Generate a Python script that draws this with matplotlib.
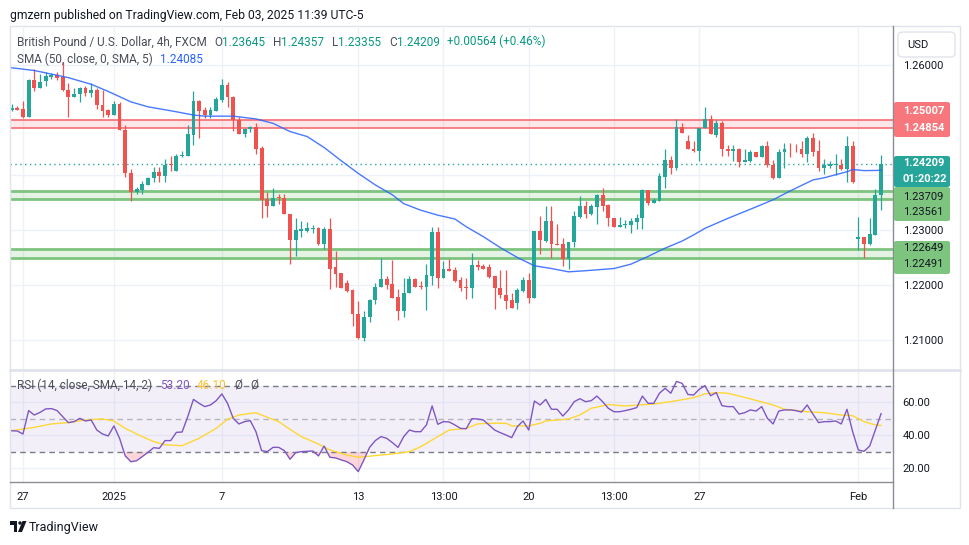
import numpy as np
import matplotlib
matplotlib.use("Agg")
import matplotlib.pyplot as plt
from matplotlib.patches import Rectangle, FancyBboxPatch, Polygon, Ellipse
from matplotlib.lines import Line2D

plt.rcParams['font.family'] = ['Roboto', 'DejaVu Sans']

# GBPUSD 4h candles (bar 0 = Dec 27)
opens = [1.2518, 1.2522, 1.2520, 1.2506, 1.2573, 1.2559, 1.2571, 1.2579, 1.2582, 1.2578,
         1.2555, 1.2542, 1.2548, 1.2559, 1.2550, 1.2555, 1.2528, 1.2518, 1.2509, 1.2530,
         1.2482, 1.2403, 1.2370, 1.2373, 1.2382, 1.2394, 1.2405, 1.2399, 1.2419, 1.2408,
         1.2435, 1.2435, 1.2473, 1.2535, 1.2518, 1.2510, 1.2517, 1.2536, 1.2564, 1.2542,
         1.2500, 1.2475, 1.2484, 1.2487, 1.2450, 1.2356, 1.2344, 1.2359, 1.2358, 1.2330,
         1.2281, 1.2299, 1.2299, 1.2302, 1.2304, 1.2274, 1.2302, 1.2232, 1.2221, 1.2203,
         1.2191, 1.2147, 1.2104, 1.2141, 1.2172, 1.2196, 1.2211, 1.2202, 1.2178, 1.2152,
         1.2185, 1.2211, 1.2199, 1.2197, 1.2217, 1.2296, 1.2213, 1.2230, 1.2227, 1.2209,
         1.2197, 1.2195, 1.2236, 1.2235, 1.2232, 1.2216, 1.2195, 1.2182, 1.2173, 1.2167,
         1.2190, 1.2209, 1.2176, 1.2298, 1.2280, 1.2316, 1.2275, 1.2274, 1.2247, 1.2278,
         1.2324, 1.2344, 1.2329, 1.2342, 1.2364, 1.2345, 1.2321, 1.2306, 1.2309, 1.2310,
         1.2315, 1.2321, 1.2373, 1.2350, 1.2353, 1.2397, 1.2427, 1.2413, 1.2488, 1.2462,
         1.2448, 1.2444, 1.2485, 1.2502, 1.2473, 1.2494, 1.2448, 1.2444, 1.2447, 1.2423,
         1.2426, 1.2441, 1.2433, 1.2453, 1.2419, 1.2395, 1.2441, 1.2448, 1.2448, 1.2447,
         1.2439, 1.2467, 1.2444, 1.2413, 1.2417, 1.2418, 1.2419, 1.2411, 1.2453, 1.2284,
         1.2287, 1.2275, 1.2291, 1.23645]
highs = [1.2530, 1.2526, 1.2535, 1.2575, 1.2592, 1.2584, 1.2587, 1.2585, 1.2587, 1.2606,
         1.2567, 1.2558, 1.2560, 1.2561, 1.2568, 1.2558, 1.2555, 1.2520, 1.2535, 1.2533,
         1.2491, 1.2411, 1.2379, 1.2390, 1.2396, 1.2415, 1.2415, 1.2429, 1.2435, 1.2438,
         1.2444, 1.2491, 1.2552, 1.2536, 1.2524, 1.2524, 1.2542, 1.2575, 1.2570, 1.2544,
         1.2505, 1.2486, 1.2489, 1.2494, 1.2452, 1.2369, 1.2377, 1.2365, 1.2365, 1.2330,
         1.2321, 1.2316, 1.2314, 1.2309, 1.2306, 1.2306, 1.2321, 1.2262, 1.2221, 1.2209,
         1.2192, 1.2171, 1.2153, 1.2174, 1.2203, 1.2249, 1.2217, 1.2246, 1.2192, 1.2212,
         1.2217, 1.2212, 1.2207, 1.2239, 1.2306, 1.2306, 1.2244, 1.2247, 1.2233, 1.2215,
         1.2213, 1.2259, 1.2246, 1.2239, 1.2239, 1.2217, 1.2227, 1.2227, 1.2186, 1.2195,
         1.2215, 1.2221, 1.2299, 1.2325, 1.2344, 1.2344, 1.2311, 1.2286, 1.2279, 1.2335,
         1.2361, 1.2353, 1.2347, 1.2365, 1.2377, 1.2347, 1.2322, 1.2323, 1.2319, 1.2321,
         1.2330, 1.2375, 1.2373, 1.2359, 1.2403, 1.2447, 1.2435, 1.2502, 1.2494, 1.2473,
         1.2462, 1.2485, 1.2524, 1.2510, 1.2500, 1.2498, 1.2455, 1.2455, 1.2450, 1.2447,
         1.2445, 1.2441, 1.2455, 1.2462, 1.2427, 1.2448, 1.2458, 1.2459, 1.2456, 1.2462,
         1.2471, 1.2477, 1.2464, 1.2430, 1.2425, 1.2439, 1.2430, 1.2471, 1.2461, 1.2323,
         1.2287, 1.2321, 1.2374, 1.24357]
lows = [1.2516, 1.2518, 1.2504, 1.2505, 1.2553, 1.2558, 1.2562, 1.2575, 1.2573, 1.2553,
        1.2506, 1.2541, 1.2533, 1.2544, 1.2542, 1.2520, 1.2506, 1.2506, 1.2509, 1.2481,
        1.2397, 1.2352, 1.2365, 1.2365, 1.2381, 1.2387, 1.2388, 1.2388, 1.2407, 1.2408,
        1.2433, 1.2434, 1.2455, 1.2468, 1.2503, 1.2504, 1.2517, 1.2532, 1.2524, 1.2480,
        1.2475, 1.2470, 1.2479, 1.2439, 1.2321, 1.2324, 1.2344, 1.2348, 1.2329, 1.2239,
        1.2252, 1.2288, 1.2297, 1.2294, 1.2273, 1.2265, 1.2192, 1.2196, 1.2194, 1.2188,
        1.2126, 1.2101, 1.2099, 1.2132, 1.2165, 1.2196, 1.2192, 1.2177, 1.2136, 1.2141,
        1.2185, 1.2197, 1.2192, 1.2155, 1.2200, 1.2194, 1.2213, 1.2226, 1.2205, 1.2189,
        1.2175, 1.2177, 1.2227, 1.2230, 1.2212, 1.2156, 1.2176, 1.2156, 1.2159, 1.2156,
        1.2188, 1.2167, 1.2176, 1.2256, 1.2279, 1.2249, 1.2272, 1.2235, 1.2230, 1.2270,
        1.2321, 1.2321, 1.2327, 1.2311, 1.2335, 1.2308, 1.2306, 1.2306, 1.2303, 1.2294,
        1.2302, 1.2301, 1.2345, 1.2350, 1.2353, 1.2377, 1.2401, 1.2409, 1.2477, 1.2448,
        1.2442, 1.2425, 1.2485, 1.2474, 1.2470, 1.2435, 1.2435, 1.2426, 1.2415, 1.2423,
        1.2423, 1.2433, 1.2433, 1.2415, 1.2393, 1.2395, 1.2412, 1.2433, 1.2442, 1.2432,
        1.2424, 1.2435, 1.2408, 1.2402, 1.2412, 1.2400, 1.2409, 1.2387, 1.2386, 1.2264,
        1.2250, 1.2273, 1.2291, 1.23355]
closes = [1.2522, 1.2519, 1.2505, 1.2573, 1.2559, 1.2570, 1.2580, 1.2582, 1.2576, 1.2554,
          1.2542, 1.2548, 1.2559, 1.2550, 1.2555, 1.2528, 1.2517, 1.2509, 1.2530, 1.2481,
          1.2403, 1.2370, 1.2375, 1.2384, 1.2395, 1.2405, 1.2399, 1.2419, 1.2418, 1.2435,
          1.2436, 1.2475, 1.2535, 1.2517, 1.2510, 1.2518, 1.2539, 1.2564, 1.2541, 1.2500,
          1.2475, 1.2484, 1.2488, 1.2447, 1.2355, 1.2344, 1.2359, 1.2358, 1.2329, 1.2281,
          1.2300, 1.2301, 1.2303, 1.2304, 1.2274, 1.2302, 1.2230, 1.2220, 1.2195, 1.2190,
          1.2147, 1.2103, 1.2141, 1.2173, 1.2196, 1.2211, 1.2200, 1.2177, 1.2152, 1.2185,
          1.2211, 1.2197, 1.2197, 1.2218, 1.2296, 1.2213, 1.2230, 1.2226, 1.2207, 1.2195,
          1.2195, 1.2236, 1.2233, 1.2230, 1.2215, 1.2194, 1.2181, 1.2171, 1.2159, 1.2191,
          1.2209, 1.2176, 1.2298, 1.2281, 1.2316, 1.2274, 1.2273, 1.2247, 1.2278, 1.2325,
          1.2344, 1.2330, 1.2344, 1.2364, 1.2344, 1.2321, 1.2306, 1.2309, 1.2311, 1.2316,
          1.2321, 1.2373, 1.2350, 1.2355, 1.2398, 1.2427, 1.2413, 1.2488, 1.2477, 1.2448,
          1.2444, 1.2485, 1.2502, 1.2474, 1.2494, 1.2448, 1.2444, 1.2447, 1.2423, 1.2427,
          1.2441, 1.2433, 1.2453, 1.2418, 1.2395, 1.2441, 1.2448, 1.2447, 1.2447, 1.2439,
          1.2467, 1.2442, 1.2413, 1.2418, 1.2420, 1.2420, 1.2411, 1.2453, 1.2387, 1.2287,
          1.2275, 1.2293, 1.2364, 1.24209]

# SMA(50) line, sampled along the blue curve
sma_bars = [0, 4, 10, 14, 17, 21, 24, 29, 32, 34, 39, 43, 46, 49, 52, 55, 58, 61, 64, 67,
            69, 72, 75, 78, 80, 83, 86, 89, 92, 95, 98, 101, 106, 109, 112, 115, 118, 120,
            122, 126, 131, 134, 137, 141, 143, 147, 148, 150, 153]
sma_vals = [1.2595, 1.2590, 1.2577, 1.2565, 1.2552, 1.2533, 1.2524, 1.2515, 1.2509, 1.2507,
            1.2507, 1.2502, 1.2494, 1.2479, 1.2470, 1.2450, 1.2426, 1.2403, 1.2382, 1.2364,
            1.2348, 1.2336, 1.2327, 1.2320, 1.2306, 1.2288, 1.2268, 1.2250, 1.2235, 1.2230,
            1.2224, 1.2226, 1.2230, 1.2238, 1.2252, 1.2267, 1.2280, 1.2291, 1.2303, 1.2321,
            1.2342, 1.2355, 1.2371, 1.2391, 1.2395, 1.2406, 1.2410, 1.2408, 1.24085]

# RSI(14) per bar and its SMA(14)
rsi = [42.9, 42.7, 40.9, 55.1, 52.4, 54.0, 56.1, 56.3, 55.1, 51.4,
       47.8, 48.4, 50.4, 48.8, 49.4, 43.3, 40.9, 39.7, 45.8, 38.3,
       27.6, 24.1, 24.7, 27.2, 29.8, 32.6, 32.2, 36.9, 36.9, 41.9,
       42.1, 51.4, 61.9, 59.5, 57.5, 58.5, 61.1, 65.2, 59.5, 50.4,
       47.0, 48.4, 49.0, 42.3, 30.8, 30.2, 32.8, 32.8, 30.8, 25.6,
       29.6, 30.2, 30.4, 30.6, 27.6, 33.6, 26.8, 26.4, 25.2, 24.1,
       22.1, 18.1, 25.2, 32.8, 36.9, 39.3, 38.3, 35.7, 32.8, 39.3,
       43.3, 42.3, 42.3, 46.4, 57.9, 46.8, 48.4, 48.2, 46.4, 44.3,
       44.1, 50.2, 50.0, 49.4, 46.4, 43.3, 41.7, 40.3, 38.7, 45.4,
       48.8, 43.3, 60.9, 58.5, 61.9, 55.9, 55.9, 51.8, 55.5, 60.5,
       62.3, 60.5, 61.1, 63.9, 60.5, 56.5, 54.4, 54.4, 55.1, 55.9,
       56.9, 63.9, 59.5, 59.5, 65.6, 68.6, 65.6, 72.8, 71.6, 64.9,
       64.5, 68.0, 70.2, 64.1, 66.0, 58.1, 57.5, 57.5, 53.0, 53.8,
       55.5, 54.8, 57.5, 50.4, 47.0, 54.8, 55.5, 55.5, 55.1, 54.2,
       58.5, 53.0, 47.8, 48.4, 48.4, 48.8, 47.0, 55.9, 42.3, 31.2,
       30.4, 33.6, 43.3, 53.2]
rsi_ma_bars = [0, 4, 7, 10, 13, 16, 18, 20, 23, 25, 27, 30, 31, 33, 36, 38, 40, 43, 44, 47,
               49, 51, 54, 56, 59, 61, 64, 67, 70, 72, 74, 77, 80, 82, 84, 87, 88, 91, 93, 94,
               98, 100, 102, 105, 108, 113, 116, 120, 122, 124, 126, 129, 134, 136, 140, 143,
               146, 148, 150, 152, 153]
rsi_ma_vals = [42.9, 44.9, 47.0, 47.8, 49.4, 50.0, 48.8, 44.3, 39.3, 36.3, 34.4, 33.8, 35.3,
               38.3, 44.3, 49.8, 52.4, 53.8, 52.4, 48.4, 43.7, 39.3, 34.8, 31.2, 28.2, 26.8,
               27.8, 28.8, 30.2, 33.2, 37.3, 43.3, 44.3, 47.0, 47.4, 47.4, 45.8, 45.8, 47.4,
               48.8, 50.0, 52.4, 56.5, 58.7, 57.9, 59.1, 60.5, 62.9, 65.2, 66.0, 65.6, 63.1,
               58.5, 55.9, 54.4, 53.8, 52.4, 52.0, 48.4, 46.4, 46.1]

red_zone = (1.24854, 1.25007)
green_zones = [(1.23561, 1.23709), (1.22491, 1.22649)]
last_close = 1.24209
countdown = "01:20:22"

tick_bars = [2, 18, 37, 61, 76, 91, 106, 121, 149]
tick_labels = ["27", "2025", "7", "13", "13:00", "20", "13:00", "27", "Feb"]
price_ticks = [1.21, 1.22, 1.23, 1.24, 1.25, 1.26]
price_tick_labels = ["1.21000", "1.22000", "1.23000", "", "", "1.26000"]
rsi_ticks = [20, 40, 60]
rsi_tick_labels = ["20.00", "40.00", "60.00"]

W, H = 970, 545
def fx(px): return px / W
def fy(py): return 1 - py / H

UP, DOWN = '#26a69a', '#ef5350'
TXT = '#131722'
GREY = '#787b86'
LEG = '#4a4e5a'
GRID = '#eef1f7'
FS = 8
HFS = 8.5

fig = plt.figure(figsize=(W / 100, H / 100), dpi=100)
ax = fig.add_axes([fx(10), fy(370), fx(893) - fx(10), fy(28) - fy(370)])
ax2 = fig.add_axes([fx(10), fy(482), fx(893) - fx(10), fy(370) - fy(482)])

# ---- price pane
bars = np.arange(len(closes))
o, h, l, c = map(np.array, (opens, highs, lows, closes))
col = np.where(c >= o, UP, DOWN)
ax.vlines(bars, l, h, colors=col, lw=0.9, zorder=4)
body = np.maximum(np.abs(c - o), 0.00012)
ax.bar(bars, body, bottom=np.minimum(o, c), width=0.68, color=col, lw=0, zorder=5)
ax.plot(sma_bars, sma_vals, color='#2962ff', lw=1.0, alpha=0.85, zorder=6)

ax.axhspan(*red_zone, color='#f23645', alpha=0.12, lw=0, zorder=2)
for v in red_zone:
    ax.axhline(v, color='#f7777c', lw=1.3, zorder=3)
for z in green_zones:
    ax.axhspan(*z, color='#4caf50', alpha=0.15, lw=0, zorder=2)
    for v in z:
        ax.axhline(v, color='#7dc47f', lw=2.0, zorder=3)
ax.axhline(last_close, color=UP, lw=1.0, ls=(0, (1, 2.5)), zorder=3)

ax.set_xlim(-0.28, 155.1)
ax.set_ylim(1.20455, 1.26673)
ax.set_xticks(tick_bars)
ax.set_yticks(price_ticks)
ax.yaxis.tick_right()
ax.set_yticklabels(price_tick_labels)
ax.tick_params(axis='x', length=0, labelbottom=False)
ax.tick_params(axis='y', length=0, pad=7, labelsize=FS, labelcolor=TXT)
ax.grid(True, color=GRID, lw=1)
ax.set_axisbelow(True)
for s in ax.spines.values():
    s.set_visible(False)

# ---- RSI pane
r = np.array(rsi)
ax2.axhspan(30, 70, color='#7e57c2', alpha=0.09, lw=0)
ax2.axhline(70, color=GREY, lw=1, ls=(0, (4, 3)))
ax2.axhline(50, color=GREY, lw=1, ls=(0, (4, 3)), alpha=0.5)
ax2.axhline(30, color=GREY, lw=1, ls=(0, (4, 3)))
ax2.fill_between(bars, r, 30, where=r < 30, interpolate=True, color='#f23645', alpha=0.2, lw=0)
ax2.plot(rsi_ma_bars, rsi_ma_vals, color='#fdd835', lw=1.0, zorder=4)
ax2.plot(bars, r, color='#7e57c2', lw=1.0, zorder=5)
ax2.set_xlim(-0.28, 155.1)
ax2.set_ylim(11.8, 79.7)
ax2.yaxis.tick_right()
ax2.set_yticks(rsi_ticks)
ax2.set_yticklabels(rsi_tick_labels)
ax2.set_xticks(tick_bars)
ax2.set_xticklabels(tick_labels)
ax2.tick_params(axis='y', length=0, pad=7, labelsize=FS, labelcolor=TXT)
ax2.tick_params(axis='x', length=0, pad=7, labelsize=FS, labelcolor=TXT)
ax2.grid(True, color=GRID, lw=1)
ax2.set_axisbelow(True)
for s in ax2.spines.values():
    s.set_visible(False)

# ---- frame and separators
fig.add_artist(Rectangle((fx(10), fy(508)), fx(960) - fx(10), fy(26) - fy(508),
                         transform=fig.transFigure, fill=False, ec='#e0e3eb', lw=1))
fig.add_artist(Line2D([fx(10), fx(960)], [fy(370), fy(370)], color='#e0e3eb', lw=2))
fig.add_artist(Line2D([fx(10), fx(893)], [fy(482), fy(482)], color='#8a8d96', lw=1))
fig.add_artist(Line2D([fx(893), fx(893)], [fy(26), fy(508)], color='#8a8d96', lw=1))

# ---- price labels on the right scale
def label_box(y0, y1, color, rows, tcolor, weight='bold'):
    fig.add_artist(FancyBboxPatch((fx(894), fy(y1)), fx(950) - fx(894), fy(y0) - fy(y1),
                                  boxstyle='round,pad=0,rounding_size=0.003',
                                  transform=fig.transFigure, fc=color, ec='none', zorder=5))
    for ty, s in rows:
        fig.text(fx(903), fy(ty), s, color=tcolor, fontsize=FS, fontweight=weight,
                 va='center', ha='left', zorder=6)

label_box(102, 137, '#f7777c', [(111.5, f"{red_zone[1]:.5f}"), (128.3, f"{red_zone[0]:.5f}")], 'white')
label_box(156, 187, UP, [(163.5, f"{last_close:.5f}"), (178.5, countdown)], 'white')
label_box(187, 221, '#7dc47f', [(196.7, f"{green_zones[0][1]:.5f}"), (212.3, f"{green_zones[0][0]:.5f}")], TXT, 'normal')
label_box(241, 274, '#7dc47f', [(248.3, f"{green_zones[1][1]:.5f}"), (264.3, f"{green_zones[1][0]:.5f}")], TXT, 'normal')

fig.add_artist(FancyBboxPatch((fx(898), fy(57)), fx(955) - fx(898), fy(32) - fy(57),
                              boxstyle='round,pad=0,rounding_size=0.006',
                              transform=fig.transFigure, fc='white', ec='#e0e3eb', lw=1, zorder=5))
fig.text(fx(907), fy(44.5), "USD", color=TXT, fontsize=FS, va='center', zorder=6)

# ---- header texts (pieces chained one after another)
def chain(axis, x, y, parts, gaps):
    prev = fig.text(fx(x), fy(y), parts[0][0], color=parts[0][1], fontsize=HFS, va='center', zorder=7)
    for (s, cc), g in zip(parts[1:], gaps):
        prev = axis.annotate(s, xy=(1, 0), xycoords=prev, xytext=(g, 0), textcoords='offset points',
                             color=cc, fontsize=HFS, va='bottom', ha='left', annotation_clip=False,
                             zorder=7)

fig.text(fx(10), fy(15), "gmzern published on TradingView.com, Feb 03, 2025 11:39 UTC-5",
         color=TXT, fontsize=8.7, va='center')
TEAL = '#089981'
chain(ax, 17, 42, [("British Pound / U.S. Dollar, 4h, FXCM", LEG),
                   ("O", LEG), ("1.23645", TEAL), ("H", LEG), ("1.24357", TEAL),
                   ("L", LEG), ("1.23355", TEAL), ("C", LEG), ("1.24209", TEAL),
                   ("+0.00564 (+0.46%)", TEAL)],
      [5.5, 0, 5.5, 0, 5.5, 0, 5.5, 0, 5.5])
chain(ax, 17, 59, [("SMA (50, close, 0, SMA, 5)", LEG), ("1.24085", '#2962ff')], [5.5])
chain(ax2, 17, 385, [("RSI (14, close, SMA, 14, 2)", LEG), ("53.20", '#7e57c2'),
                     ("46.10", '#fbc02d'), ("Ø", LEG), ("Ø", LEG)], [5.5, 5.5, 5.5, 5.5])

# ---- TradingView mark
LOGO = '#131722'
fig.add_artist(Polygon([(fx(10), fy(521)), (fx(17.5), fy(521)), (fx(17.5), fy(532)),
                        (fx(14), fy(532)), (fx(14), fy(524.5)), (fx(10), fy(524.5))],
                       closed=True, transform=fig.transFigure, fc=LOGO, ec='none'))
fig.add_artist(Ellipse((fx(20), fy(523)), 3.4 / W, 3.4 / H, transform=fig.transFigure,
                       fc=LOGO, ec='none'))
fig.add_artist(Polygon([(fx(22.5), fy(521)), (fx(26.5), fy(521)), (fx(22), fy(532)),
                        (fx(18), fy(532))],
                       closed=True, transform=fig.transFigure, fc=LOGO, ec='none'))
fig.text(fx(29), fy(527), "TradingView", color=TXT, fontsize=9, va='center')

fig.savefig("out.png", dpi=100, facecolor='white')
